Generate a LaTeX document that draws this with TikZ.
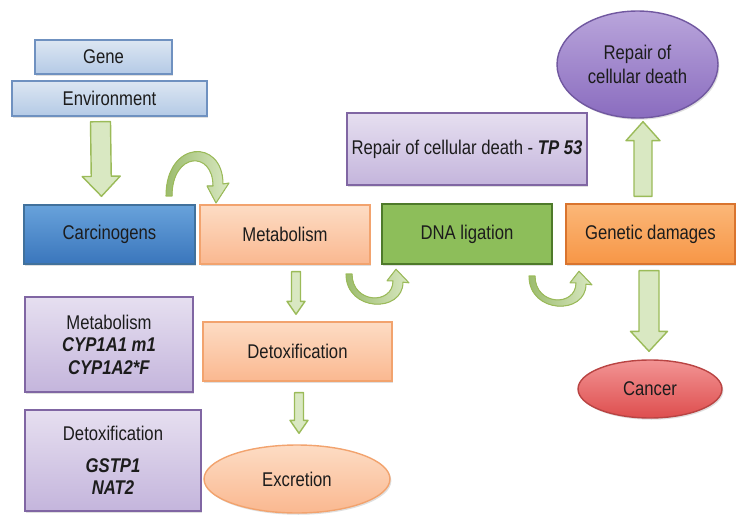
\documentclass[tikz,border=0pt]{standalone}
\usepackage{fontspec}
\setmainfont[FakeStretch=0.84]{Liberation Sans}
\usetikzlibrary{calc, shapes.geometric, shadows}

\definecolor{txt}{HTML}{1C1C1C}
\definecolor{bluelt}{HTML}{DCE6F2}
\definecolor{bluelb}{HTML}{B4CAE6}
\definecolor{bluelline}{HTML}{6F91C0}
\definecolor{bluet}{HTML}{68A2DB}
\definecolor{blueb}{HTML}{3A76BC}
\definecolor{blueline}{HTML}{41719C}
\definecolor{peacht}{HTML}{FDDCC4}
\definecolor{peachb}{HTML}{FAB890}
\definecolor{peachline}{HTML}{F2A36E}
\definecolor{dnafill}{HTML}{8DBE5A}
\definecolor{dnaline}{HTML}{4E7A2A}
\definecolor{oranget}{HTML}{FBB778}
\definecolor{orangeb}{HTML}{F79646}
\definecolor{orangeline}{HTML}{D9742E}
\definecolor{lilact}{HTML}{E6DFF0}
\definecolor{lilacb}{HTML}{C4B5DC}
\definecolor{lilacline}{HTML}{8066A3}
\definecolor{purplet}{HTML}{B9A5DB}
\definecolor{purpleb}{HTML}{8A6CBF}
\definecolor{purpleline}{HTML}{7158A0}
\definecolor{redt}{HTML}{F29494}
\definecolor{redb}{HTML}{DE4E4E}
\definecolor{redline}{HTML}{B94443}
\definecolor{arrowfill}{HTML}{D9E8C2}
\definecolor{arrowdark}{HTML}{9CBC6E}
\definecolor{arrowline}{HTML}{9BBB59}

\tikzset{
	box/.style={rectangle, draw, line width=0.8pt, align=center, inner sep=2pt,
		drop shadow={shadow xshift=0.8pt, shadow yshift=-1pt, opacity=0.25}},
	oval/.style={ellipse, draw, line width=0.8pt, align=center, inner sep=0pt,
		drop shadow={shadow xshift=0.8pt, shadow yshift=-1pt, opacity=0.25}},
	lightblue/.style={box, top color=bluelt, bottom color=bluelb, draw=bluelline},
	darkblue/.style={box, top color=bluet, bottom color=blueb, draw=blueline},
	peach/.style={top color=peacht, bottom color=peachb, draw=peachline},
	lilac/.style={box, top color=lilact, bottom color=lilacb, draw=lilacline},
	fatarrow/.style={fill=arrowfill, draw=arrowline, line width=0.8pt, line join=round},
	bendarrow/.pic={
		\filldraw[left color=arrowdark, right color=arrowfill, draw=arrowline, line width=0.6pt, line join=round]
			(0,0) -- (6,0) .. controls (6,-44) and (47,-46) .. (47,-10) -- (41,-10) -- (50,7)
			-- (63,-13) -- (57,-12) .. controls (57,-58) and (0,-56) .. (0,0) -- cycle;
	}
}

\newcommand{\fatarrow}[5]{%
	\coordinate (fa-s) at (#1);
	\coordinate (fa-e) at (#2);
	\coordinate (fa-h) at ($(fa-e)!#5!(fa-s)$);
	\filldraw[fatarrow] ($(fa-s)!#3!90:(fa-e)$) -- ($(fa-h)!#3!90:(fa-e)$) -- ($(fa-h)!#4!90:(fa-e)$)
		-- (fa-e) -- ($(fa-h)!#4!-90:(fa-e)$) -- ($(fa-h)!#3!-90:(fa-e)$) -- ($(fa-s)!#3!-90:(fa-e)$) -- cycle;
}

\begin{document}
\begin{tikzpicture}[x=0.02cm, y=-0.02cm, font=\fontsize{11.3}{13.6}\selectfont, text=txt]
	\useasboundingbox (0,0) rectangle (750,520);

	\node[lightblue, minimum width=2.74cm, minimum height=0.68cm] (gene) at (103.5,57) {Gene};
	\node[lightblue, minimum width=3.9cm, minimum height=0.7cm] (env) at (109.5,98.5) {Environment};

	\node[darkblue, minimum width=3.42cm, minimum height=1.18cm] (carc) at (109.5,234.5) {Carcinogens};
	\node[box, peach, minimum width=3.4cm, minimum height=1.18cm] (metab) at (285,234.5) {Metabolism};
	\node[box, fill=dnafill, draw=dnaline, minimum width=3.4cm, minimum height=1.2cm] (dna) at (467,234) {DNA ligation};
	\node[box, top color=oranget, bottom color=orangeb, draw=orangeline, minimum width=3.38cm, minimum height=1.2cm] (damage) at (650.5,234) {Genetic damages};

	\node[lilac, minimum width=4.8cm, minimum height=1.44cm] (tp53) at (467,149) {Repair of cellular death - \textbf{\textit{TP 53}}};
	\node[oval, top color=purplet, bottom color=purpleb, draw=purpleline, minimum width=3.22cm, minimum height=2.14cm, font=\fontsize{11.3}{13.8}\selectfont] (repair) at (637.5,64.5) {Repair of\\cellular death};
	\node[oval, top color=redt, bottom color=redb, draw=redline, minimum width=2.88cm, minimum height=1.16cm] (cancer) at (650,389) {Cancer};

	\node[box, peach, minimum width=3.78cm, minimum height=1.18cm] (detox) at (297.5,351.5) {Detoxification};
	\node[oval, peach, minimum width=3.72cm, minimum height=1.36cm] (excr) at (297,479) {Excretion};

	\node[lilac, minimum width=3.36cm, minimum height=1.9cm, font=\fontsize{11.3}{12.8}\selectfont] (cyp) at (109,344.5) {Metabolism\\\textbf{\textit{CYP1A1 m1}}\\\textbf{\textit{CYP1A2*F}}};
	\node[lilac, minimum width=3.52cm, minimum height=2.02cm, font=\fontsize{11.3}{12.8}\selectfont] (gst) at (113,460.5) {Detoxification\\[5pt]\textbf{\textit{GSTP1}}\\\textbf{\textit{NAT2}}};

	\fatarrow{[shift={(-9,5)}]env.south}{[shift={(-8,-8)}]carc.north}{0.2cm}{0.38cm}{0.4cm}
	\fatarrow{[shift={(11,7)}]metab.south}{[shift={(-1.5,-7)}]detox.north}{0.09cm}{0.18cm}{0.26cm}
	\fatarrow{[shift={(1.5,11)}]detox.south}{[shift={(2,-11)}]excr.north}{0.09cm}{0.18cm}{0.26cm}
	\fatarrow{[shift={(-1.5,6)}]damage.south}{[shift={(-1,-8)}]cancer.north}{0.2cm}{0.37cm}{0.4cm}
	\fatarrow{[shift={(-7.5,-7)}]damage.north}{[shift={(5.5,3)}]repair.south}{0.18cm}{0.34cm}{0.38cm}

	\coordinate (bendA) at (166,196);
	\coordinate (bendB) at (346,274);
	\coordinate (bendC) at (529,276);
	\pic at (bendA) {bendarrow};
	\pic[yscale=-0.68] at (bendB) {bendarrow};
	\pic[yscale=-0.68] at (bendC) {bendarrow};
\end{tikzpicture}
\end{document}
